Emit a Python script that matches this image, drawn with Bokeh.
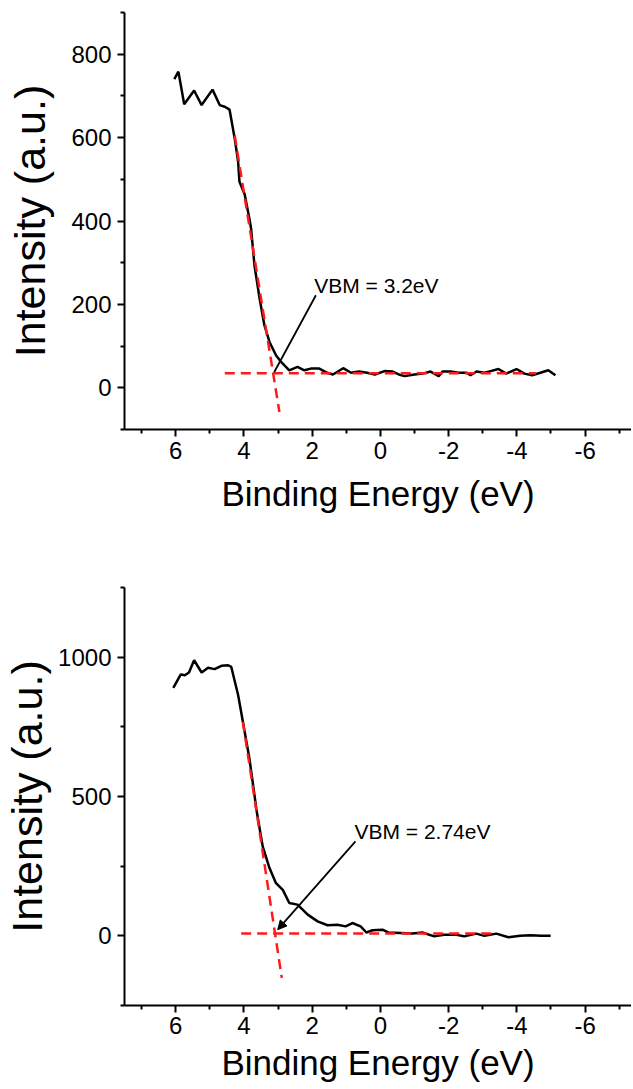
from bokeh.plotting import figure
from bokeh.models import Range1d, FixedTicker, Arrow, NormalHead, ColumnDataSource
from bokeh.layouts import column
from bokeh.embed import file_html
from bokeh.resources import INLINE
from bokeh.core.properties import value

# ---- top panel data ----
top_be = [6.04, 5.92, 5.75, 5.46, 5.24, 4.92, 4.71, 4.56, 4.42, 4.27, 4.17, 4.13, 3.98, 3.84,
          3.79, 3.69, 3.54, 3.40, 3.25, 3.06, 2.91, 2.67, 2.43, 2.23, 2.04, 1.79, 1.56, 1.39,
          1.09, 0.86, 0.63, 0.39, 0.16, -0.12, -0.36, -0.54, -0.71, -1.00, -1.24, -1.47, -1.71,
          -1.82, -2.06, -2.29, -2.53, -2.64, -2.82, -3.05, -3.23, -3.46, -3.69, -3.99, -4.22,
          -4.45, -4.69, -4.92, -5.13]
top_int = [740, 758, 680, 713, 678, 715, 678, 674, 667, 598, 542, 494, 465, 406,
           382, 293, 214, 150, 110, 78, 62, 42, 50, 42, 46, 46, 36, 32,
           47, 36, 39, 36, 32, 40, 39, 32, 28, 32, 34, 39, 28,
           39, 39, 36, 36, 30, 39, 36, 40, 45, 34, 45, 34,
           30, 36, 42, 30]
top_fit_x = [4.27, 2.96]
top_fit_y = [605, -58]
top_base_x = [4.56, -4.56]
top_base_y = [35, 35]
top_note = "VBM = 3.2eV"
top_note_xy = (1.94, 245)
top_arrow = (1.89, 222, 3.11, 38)

# ---- bottom panel data ----
bot_be = [6.07, 5.85, 5.73, 5.61, 5.46, 5.24, 5.05, 4.86, 4.66, 4.46, 4.37, 4.17, 4.03, 3.84,
          3.69, 3.64, 3.45, 3.25, 3.06, 2.86, 2.67, 2.43, 2.13, 1.84, 1.55, 1.26, 1.02, 0.82,
          0.58, 0.41, 0.23, -0.06, -0.23, -0.59, -0.94, -1.23, -1.58, -1.87, -2.23, -2.46,
          -2.81, -3.05, -3.40, -3.75, -4.10, -4.40, -4.70, -4.99]
bot_int = [890, 938, 935, 945, 989, 945, 962, 957, 969, 971, 965, 864, 768, 637,
           505, 458, 321, 243, 189, 165, 118, 112, 76, 52, 38, 40, 34, 46,
           34, 12, 20, 22, 12, 10, 8, 12, -2, 4, 4, -2,
           8, 0, 8, -5, 0, 2, 0, 0]
bot_fit_x = [4.03, 2.89]
bot_fit_y = [768, -151]
bot_base_x = [4.08, -3.34]
bot_base_y = [8, 8]
bot_note = "VBM = 2.74eV"
bot_note_xy = (0.76, 375)
bot_arrow = (0.73, 339, 3.01, 22)

x_major = [-6, -4, -2, 0, 2, 4, 6]
x_minor = [-7, -5, -3, -1, 1, 3, 5, 7]
top_y_major = [0, 200, 400, 600, 800]
top_y_minor = [-100, 100, 300, 500, 700, 900]
bot_y_major = [0, 500, 1000]
bot_y_minor = [-250, 250, 750, 1250]

FONT = "Liberation Sans"


def make_panel(be, inten, fit_x, fit_y, base_x, base_y, note, note_xy, arrow, ymin, ymax,
               ymaj, ymin_t, height, btop, bbot, xtick_standoff, xlab_standoff,
               ylab_standoff, head):
    p = figure(width=631, height=height, output_backend="svg", toolbar_location=None,
               x_range=Range1d(7.5, -7.36), y_range=Range1d(ymin, ymax),
               min_border_left=121, min_border_right=0, min_border_top=btop,
               min_border_bottom=bbot)
    p.outline_line_color = None
    p.xgrid.visible = False
    p.ygrid.visible = False
    p.background_fill_color = "white"

    src = ColumnDataSource(dict(x=be, y=inten))
    p.line("x", "y", source=src, line_color="black", line_width=2.5)
    p.line(fit_x, fit_y, line_color="#ff1a1a", line_width=2.5, line_dash="10 6")
    p.line(base_x, base_y, line_color="#ff1a1a", line_width=2.5, line_dash="10 6")

    if head:
        p.add_layout(Arrow(end=NormalHead(size=9, fill_color="black", line_color="black"),
                           x_start=arrow[0], y_start=arrow[1], x_end=arrow[2], y_end=arrow[3],
                           line_color="black", line_width=1.8))
    else:
        p.line([arrow[0], arrow[2]], [arrow[1], arrow[3]], line_color="black", line_width=1.8)

    p.text(x=[note_xy[0]], y=[note_xy[1]], text=[note], text_font=value(FONT),
           text_font_size="21px", text_align="left", text_baseline="middle",
           text_color="black")

    for ax in (p.xaxis[0], p.yaxis[0]):
        ax.axis_line_width = 2
        ax.axis_line_color = "black"
        ax.major_tick_line_width = 2
        ax.minor_tick_line_width = 2
        ax.major_tick_line_color = "black"
        ax.minor_tick_line_color = "black"
        ax.major_tick_out = 7
        ax.major_tick_in = 0
        ax.minor_tick_out = 4
        ax.minor_tick_in = 0
        ax.major_label_text_font = FONT
        ax.major_label_text_font_size = "24px"
        ax.major_label_text_color = "black"
        ax.axis_label_text_font = FONT
        ax.axis_label_text_font_style = "normal"
        ax.axis_label_text_color = "black"

    p.xaxis.ticker = FixedTicker(ticks=x_major, minor_ticks=x_minor)
    p.xaxis.major_label_overrides = {t: str(t) for t in x_major}
    p.xaxis.axis_label = "Binding Energy (eV)"
    p.xaxis.axis_label_text_font_size = "35px"
    p.xaxis.major_label_standoff = xtick_standoff
    p.xaxis.axis_label_standoff = xlab_standoff

    p.yaxis.ticker = FixedTicker(ticks=ymaj, minor_ticks=ymin_t)
    p.yaxis.axis_label = "Intensity (a.u.)"
    p.yaxis.axis_label_text_font_size = "43px"
    p.yaxis.major_label_standoff = 6
    p.yaxis.axis_label_standoff = ylab_standoff
    return p


p1 = make_panel(top_be, top_int, top_fit_x, top_fit_y, top_base_x, top_base_y, top_note,
                top_note_xy, top_arrow, -100, 900, top_y_major, top_y_minor,
                560, 12, 131, 5, 12, 14, False)
p2 = make_panel(bot_be, bot_int, bot_fit_x, bot_fit_y, bot_base_x, bot_base_y, bot_note,
                bot_note_xy, bot_arrow, -250, 1250, bot_y_major, bot_y_minor,
                524, 27, 78, 4, 6, 4, True)

layout = column(p1, p2, spacing=0)
open("out.html", "w").write(file_html(layout, INLINE))
